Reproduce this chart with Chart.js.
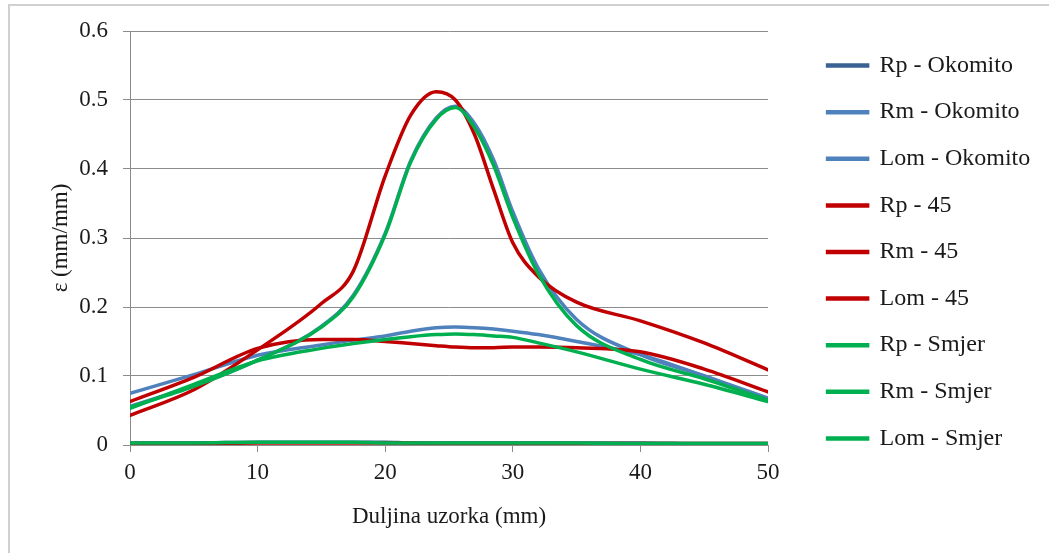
<!DOCTYPE html>
<html>
<head>
<meta charset="utf-8">
<script src="https://cdn.jsdelivr.net/npm/chart.js@4.4.0/dist/chart.umd.min.js"></script>
<style>
  html, body { margin: 0; padding: 0; background: #fff; }
  #wrap { position: relative; width: 1049px; height: 553px; }
  #frame { position: absolute; left: 8px; top: 4px; right: 0; bottom: 0;
           border-top: 2px solid #d0d0d0; border-left: 2px solid #d0d0d0; }
  canvas { position: absolute; left: 0; top: 0; }
</style>
</head>
<body>
<div id="wrap">
  <div id="frame"></div>
  <canvas id="chart" width="1049" height="553"></canvas>
</div>
<script>
// sample positions along the specimen (mm)
var xVals = [0, 5, 10, 15, 17.5, 20, 22, 24, 25.5, 27, 28.5, 30, 32, 35, 40, 45, 50];

// strain values (mm/mm)
var rpOkomito  = [0.003, 0.003, 0.004, 0.004, 0.004, 0.004, 0.003, 0.003, 0.003, 0.003, 0.003, 0.003, 0.003, 0.003, 0.003, 0.002, 0.002];
var rmOkomito  = [0.075, 0.102, 0.130, 0.145, 0.152, 0.158, 0.165, 0.170, 0.171, 0.170, 0.168, 0.165, 0.160, 0.150, 0.131, 0.100, 0.068];
var lomOkomito = [0.056, 0.086, 0.123, 0.172, 0.217, 0.307, 0.412, 0.474, 0.491, 0.466, 0.413, 0.338, 0.256, 0.182, 0.131, 0.100, 0.066];
var rp45       = [0.002, 0.002, 0.003, 0.003, 0.003, 0.003, 0.003, 0.002, 0.002, 0.002, 0.002, 0.002, 0.002, 0.002, 0.002, 0.002, 0.002];
var rm45       = [0.063, 0.098, 0.140, 0.153, 0.153, 0.150, 0.147, 0.144, 0.142, 0.141, 0.141, 0.142, 0.142, 0.141, 0.135, 0.110, 0.077];
var lom45      = [0.043, 0.080, 0.138, 0.205, 0.252, 0.390, 0.478, 0.512, 0.500, 0.450, 0.370, 0.293, 0.244, 0.207, 0.180, 0.148, 0.109];
var rpSmjer    = [0.003, 0.003, 0.004, 0.004, 0.004, 0.003, 0.003, 0.003, 0.003, 0.003, 0.003, 0.003, 0.003, 0.003, 0.002, 0.002, 0.002];
var rmSmjer    = [0.053, 0.088, 0.122, 0.140, 0.147, 0.153, 0.157, 0.160, 0.161, 0.160, 0.158, 0.156, 0.148, 0.135, 0.110, 0.088, 0.063];
var lomSmjer   = [0.055, 0.085, 0.123, 0.171, 0.215, 0.305, 0.410, 0.472, 0.489, 0.460, 0.405, 0.330, 0.248, 0.173, 0.124, 0.096, 0.065];

var seriesNames  = ['Rp - Okomito', 'Rm - Okomito', 'Lom - Okomito', 'Rp - 45', 'Rm - 45', 'Lom - 45', 'Rp - Smjer', 'Rm - Smjer', 'Lom - Smjer'];
var seriesValues = [rpOkomito, rmOkomito, lomOkomito, rp45, rm45, lom45, rpSmjer, rmSmjer, lomSmjer];
var seriesColors = ['#3a6294', '#4f81bd', '#4f81bd', '#c00000', '#c00000', '#c00000', '#00b050', '#00b050', '#00b050'];

var yTicks = [0, 0.1, 0.2, 0.3, 0.4, 0.5, 0.6];
var xTicks = [0, 10, 20, 30, 40, 50];

var serif = '"Liberation Serif", "Times New Roman", serif';
var gridGray = '#8c8c8c';
var legendWidth = 244;   // legend column on the right

var datasets = seriesNames.map(function(name, i) {
    return {
        label: name,
        data: seriesValues[i].map(function(v, j) { return {x: xVals[j], y: v}; }),
        borderColor: seriesColors[i],
        backgroundColor: seriesColors[i],
        borderWidth: 3.5,
        borderCapStyle: 'round',
        pointRadius: 0,
        cubicInterpolationMode: 'monotone',
        fill: false,
        order: seriesNames.length - 1 - i   // later series drawn on top, like the original
    };
});

// keep the legend column at a fixed width
var fixedLegend = {
    id: 'fixedLegend',
    beforeLayout: function(chart) {
        var lg = chart.legend;
        if (lg && !lg._fixedWidth) {
            var fit = lg.fit;
            lg.fit = function() { fit.call(this); this.width = legendWidth; };
            lg._fixedWidth = true;
        }
    }
};

var ctx = document.getElementById('chart').getContext('2d');
new Chart(ctx, {
    type: 'line',
    data: { datasets: datasets },
    plugins: [fixedLegend],
    options: {
        responsive: false,
        animation: false,
        layout: { padding: { left: 0, top: 31, right: 0, bottom: 0 } },
        plugins: {
            tooltip: { enabled: false },
            legend: {
                position: 'right',
                align: 'start',
                labels: {
                    boxWidth: 40,
                    boxHeight: 1,
                    padding: 22.6,
                    color: '#1a1a1a',
                    font: { family: serif, size: 24 },
                    sort: function(a, b) { return a.datasetIndex - b.datasetIndex; }
                }
            }
        },
        scales: {
            x: {
                type: 'linear',
                min: 0,
                max: 50,
                afterBuildTicks: function(axis) { axis.ticks = xTicks.map(function(v) { return {value: v}; }); },
                afterFit: function(axis) { axis.height = 108; },
                grid: { drawOnChartArea: false, drawTicks: true, tickLength: 7, color: gridGray },
                border: { color: gridGray, width: 1 },
                ticks: { color: '#1a1a1a', padding: 7, font: { family: serif, size: 23 } },
                title: { display: true, text: 'Duljina uzorka (mm)', color: '#1a1a1a',
                         padding: { top: 0, bottom: 22 }, font: { family: serif, size: 23 } }
            },
            y: {
                min: 0,
                max: 0.6,
                afterBuildTicks: function(axis) { axis.ticks = yTicks.map(function(v) { return {value: v}; }); },
                afterFit: function(axis) { axis.width = 130; },
                grid: { color: gridGray, lineWidth: 1, tickLength: 7 },
                border: { color: gridGray, width: 1 },
                ticks: { color: '#1a1a1a', padding: 15, font: { family: serif, size: 23 },
                         callback: function(v) { return String(Math.round(v * 10) / 10); } },
                title: { display: true, text: 'ε (mm/mm)', color: '#1a1a1a',
                         padding: { top: 47, bottom: 0 }, font: { family: serif, size: 23 } }
            },
            gap: {
                position: 'right',
                display: true,
                afterFit: function(axis) { axis.width = 37; },
                grid: { display: false },
                border: { display: false },
                ticks: { display: false }
            }
        }
    }
});
</script>
</body>
</html>
